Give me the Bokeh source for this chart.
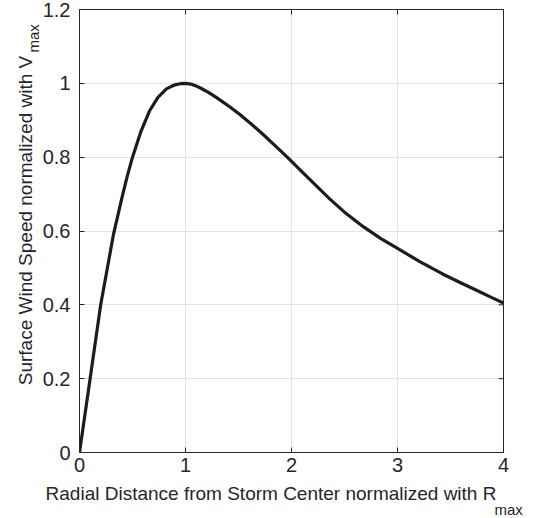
import math
from bokeh.plotting import figure
from bokeh.models import LinearAxis, Label, FixedTicker, Range1d
from bokeh.embed import file_html
from bokeh.resources import INLINE

# Normalized radial distance r / Rmax
r_norm = [0.00, 0.10, 0.20, 0.32, 0.40, 0.45, 0.50, 0.58, 0.66, 0.74, 0.82, 0.90, 0.95,
          1.00, 1.05, 1.10, 1.15, 1.22, 1.29, 1.42, 1.51, 1.62, 1.73, 1.85, 1.96,
          2.10, 2.22, 2.36, 2.50, 2.68, 2.84, 3.00, 3.21, 3.43, 3.60, 3.75, 3.88, 4.00]
# Normalized surface wind speed V / Vmax
v_norm = [0.000, 0.200, 0.400, 0.590, 0.690, 0.748, 0.800, 0.870, 0.925, 0.962, 0.985, 0.996, 0.999,
          1.000, 0.998, 0.993, 0.986, 0.975, 0.962, 0.936, 0.916, 0.890, 0.862, 0.830, 0.800,
          0.760, 0.726, 0.687, 0.651, 0.611, 0.580, 0.553, 0.517, 0.483, 0.459, 0.439, 0.421, 0.405]

x_limits = [0, 4]
y_limits = [0, 1.2]
x_ticks = [0, 1, 2, 3, 4]
x_tick_labels = ["0", "1", "2", "3", "4"]
y_ticks = [0, 0.2, 0.4, 0.6, 0.8, 1.0, 1.2]
y_tick_labels = ["0", "0.2", "0.4", "0.6", "0.8", "1", "1.2"]

x_label = "Radial Distance from Storm Center normalized with R"
y_label = "Surface Wind Speed normalized with V"
subscript = "max"

FONT = "Liberation Sans"
INK = "#262626"

p = figure(width=527, height=518, output_backend="svg", toolbar_location=None,
           x_range=Range1d(*x_limits), y_range=Range1d(*y_limits),
           min_border_left=79, min_border_right=24, min_border_top=9, min_border_bottom=66,
           x_axis_location=None, y_axis_location=None)
p.outline_line_color = INK
p.outline_line_width = 1
p.background_fill_color = "white"
p.border_fill_color = "white"

def style_axis(ax, ticks, labels, standoff):
    ax.ticker = FixedTicker(ticks=ticks)
    ax.major_label_overrides = {t: l for t, l in zip(ticks, labels)}
    ax.axis_line_color = INK
    ax.axis_line_width = 1
    ax.major_tick_in = 5
    ax.major_tick_out = 0
    ax.major_tick_line_color = INK
    ax.minor_tick_line_color = None
    ax.major_label_text_font = FONT
    ax.major_label_text_color = INK
    ax.major_label_text_font_size = "20px"
    ax.major_label_standoff = standoff

xb = LinearAxis(); style_axis(xb, x_ticks, x_tick_labels, 5)
yl = LinearAxis(); style_axis(yl, y_ticks, y_tick_labels, 9)
p.add_layout(xb, "below")
p.add_layout(yl, "left")

p.xgrid.ticker = FixedTicker(ticks=x_ticks)
p.ygrid.ticker = FixedTicker(ticks=y_ticks)
for g in (p.xgrid, p.ygrid):
    g.grid_line_color = "#c8c8c8"
    g.grid_line_dash = "1 1"
    g.grid_line_width = 1

# inward tick marks on the top and right edges of the box (clipped to frame)
p.scatter(x=x_ticks, y=[y_limits[1]] * len(x_ticks), marker="dash", size=10,
          angle=math.pi / 2, line_color=INK, line_width=1)
p.scatter(x=[x_limits[1]] * len(y_ticks), y=y_ticks, marker="dash", size=10,
          line_color=INK, line_width=1)

p.line(r_norm, v_norm, line_color="#1c1c1c", line_width=3.2, line_join="round")

# Axis labels with subscripts (canvas pixel units, placed in side panels)
p.add_layout(Label(x=270.5, y=493, x_units="canvas", y_units="canvas", text=x_label,
                   text_font=FONT, text_font_size="19px", text_color=INK,
                   text_align="center", text_baseline="middle"), "below")
p.add_layout(Label(x=494, y=509, x_units="canvas", y_units="canvas", text=subscript,
                   text_font=FONT, text_font_size="15px", text_color=INK,
                   text_align="left", text_baseline="middle"), "below")
p.add_layout(Label(x=25, y=220, x_units="canvas", y_units="canvas", text=y_label,
                   text_font=FONT, text_font_size="19px", text_color=INK, angle=math.pi / 2,
                   text_align="center", text_baseline="middle"), "left")
p.add_layout(Label(x=33, y=52, x_units="canvas", y_units="canvas", text=subscript,
                   text_font=FONT, text_font_size="15px", text_color=INK, angle=math.pi / 2,
                   text_align="left", text_baseline="middle"), "left")

open("out.html", "w").write(file_html(p, INLINE))
